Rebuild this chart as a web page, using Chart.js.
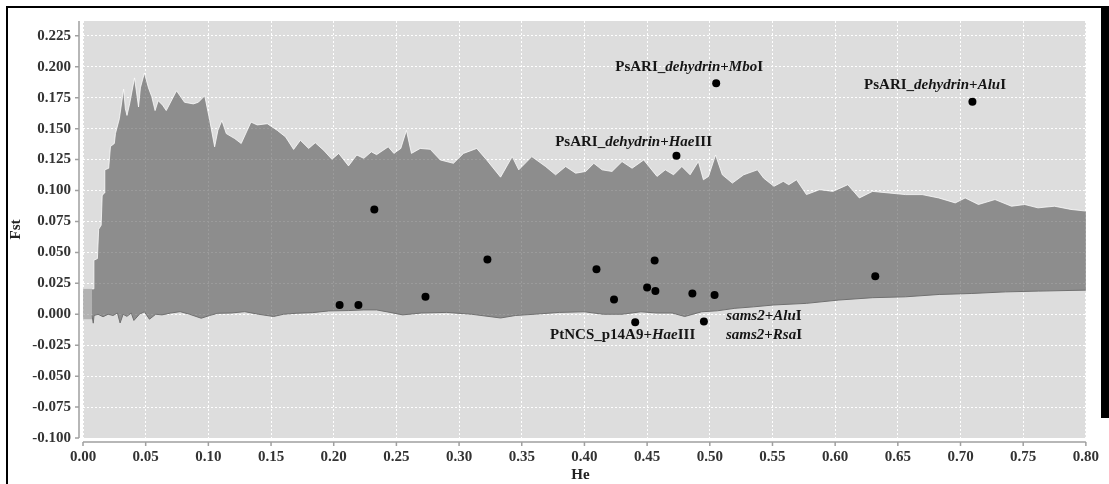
<!DOCTYPE html>
<html>
<head>
<meta charset="utf-8">
<script src="https://cdn.jsdelivr.net/npm/chart.js@4"></script>
<style>
  html, body { margin: 0; padding: 0; background: #fff; }
  #wrap { width: 1109px; height: 484px; }
</style>
</head>
<body>
<div id="wrap"><canvas id="fstChart"></canvas></div>
<script>
// upper edge of the simulated Fst envelope (He, Fst)
const heUpper = [0.0072, 0.0085, 0.0087, 0.0115, 0.0125, 0.0145, 0.0153, 0.0168, 0.0174, 0.0205,
  0.0219, 0.025, 0.0259, 0.029, 0.0324, 0.0338, 0.0351, 0.0372, 0.0411, 0.0443,
  0.0458, 0.049, 0.0522, 0.0548, 0.0575, 0.060, 0.0635, 0.0664, 0.0746, 0.081,
  0.088, 0.092, 0.0971, 0.1011, 0.1050, 0.1076, 0.1108, 0.1143, 0.121, 0.1262,
  0.134, 0.139, 0.147, 0.155, 0.1616, 0.168, 0.1734, 0.180, 0.1853, 0.1919,
  0.1986, 0.204, 0.2118, 0.2184, 0.224, 0.230, 0.2342, 0.2435, 0.248, 0.2535,
  0.258, 0.262, 0.269, 0.277, 0.285, 0.2955, 0.3035, 0.3141, 0.322, 0.3331,
  0.3424, 0.3476, 0.358, 0.369, 0.377, 0.385, 0.393, 0.401, 0.4075, 0.4141,
  0.422, 0.430, 0.438, 0.4473, 0.4579, 0.4645, 0.4711, 0.4777, 0.4843, 0.4909,
  0.4949, 0.499, 0.5046, 0.510, 0.518, 0.527, 0.538, 0.543, 0.5512, 0.5586,
  0.563, 0.5692, 0.5771, 0.5876, 0.5982, 0.6101, 0.6193, 0.6298, 0.6430, 0.6562,
  0.6694, 0.6826, 0.6958, 0.7037, 0.7143, 0.7275, 0.7407, 0.7512, 0.7618, 0.775,
  0.7881, 0.80];
const fstUpper = [0.0205, 0.0205, 0.0437, 0.045, 0.0687, 0.072, 0.0957, 0.098, 0.1167, 0.118,
  0.1356, 0.138, 0.146, 0.158, 0.182, 0.166, 0.1607, 0.170, 0.191, 0.1675,
  0.183, 0.195, 0.183, 0.176, 0.1646, 0.1726, 0.169, 0.1646, 0.1806, 0.1713,
  0.170, 0.1713, 0.1766, 0.1566, 0.1353, 0.1486, 0.1566, 0.1460, 0.142, 0.138,
  0.1553, 0.153, 0.154, 0.1486, 0.1433, 0.1332, 0.1406, 0.1340, 0.1386, 0.1326,
  0.1252, 0.1300, 0.1199, 0.1287, 0.1260, 0.1313, 0.1290, 0.1353, 0.1300, 0.134,
  0.1486, 0.1300, 0.134, 0.1333, 0.1247, 0.122, 0.1300, 0.134, 0.1247, 0.1108,
  0.1274, 0.1167, 0.1274, 0.1194, 0.1127, 0.1194, 0.1140, 0.1154, 0.122, 0.1167,
  0.1154, 0.1234, 0.118, 0.1247, 0.1114, 0.1167, 0.1127, 0.1194, 0.1127, 0.1234,
  0.1087, 0.1114, 0.1287, 0.1127, 0.106, 0.1127, 0.1167, 0.110, 0.1034, 0.1074,
  0.1047, 0.1087, 0.0967, 0.1007, 0.0993, 0.1047, 0.0940, 0.0993, 0.098, 0.0967,
  0.0967, 0.094, 0.0900, 0.094, 0.0887, 0.0927, 0.0873, 0.0887, 0.086, 0.0873,
  0.0847, 0.0834];

// lower edge of the envelope
const heLower = [0.0072, 0.0082, 0.0088, 0.012, 0.016, 0.020, 0.024, 0.0275, 0.0296, 0.032,
  0.035, 0.0385, 0.0406, 0.045, 0.049, 0.053, 0.058, 0.063, 0.070, 0.0775,
  0.085, 0.0943, 0.101, 0.1076, 0.118, 0.129, 0.140, 0.152, 0.160, 0.170,
  0.183, 0.196, 0.212, 0.224, 0.2342, 0.245, 0.255, 0.270, 0.290, 0.310,
  0.3331, 0.345, 0.360, 0.380, 0.400, 0.415, 0.430, 0.445, 0.458, 0.470,
  0.480, 0.4935, 0.506, 0.520, 0.535, 0.551, 0.577, 0.603, 0.630, 0.656,
  0.683, 0.709, 0.736, 0.762, 0.80];
const fstLower = [-0.001, -0.0072, -0.001, 0.000, -0.002, 0.000, -0.001, 0.001, -0.007, 0.000,
  -0.0017, 0.001, -0.005, 0.000, 0.002, -0.004, 0.000, -0.0005, 0.001, 0.0021,
  0.000, -0.0032, -0.001, 0.0008, 0.001, 0.0021, 0.000, -0.0018, 0.000, 0.0008,
  0.0013, 0.0027, 0.0030, 0.0035, 0.0035, 0.0015, -0.0005, 0.0010, 0.0015, 0.000,
  -0.003, -0.001, 0.000, 0.0015, 0.002, 0.000, 0.000, 0.002, 0.001, 0.001,
  -0.0018, 0.002, 0.0028, 0.0048, 0.006, 0.0075, 0.0088, 0.0115, 0.0134, 0.0141,
  0.016, 0.0168, 0.0181, 0.0187, 0.0195];

// lighter box at very low He
const heLight = [0, 0.0072];
const fstLightTop = [0.0205, 0.0205];
const fstLightBottom = [-0.004, -0.004];

// observed loci
const locusHe = [0.2047, 0.2197, 0.2324, 0.2732, 0.3226, 0.4096, 0.4236, 0.4405, 0.450,
  0.456, 0.4566, 0.4734, 0.4861, 0.4953, 0.5038, 0.5051, 0.632, 0.7095];
const locusFst = [0.0075, 0.0075, 0.0847, 0.0141, 0.0443, 0.0363, 0.012, -0.0064, 0.0216,
  0.0435, 0.0187, 0.1282, 0.0168, -0.0058, 0.0155, 0.1867, 0.0307, 0.1718];

// outlier labels: text parts [text, italic]
const labelParts = [
  [['PsARI_', false], ['dehydrin', true], ['+', false], ['Mbo', true], ['I', false]],
  [['PsARI_', false], ['dehydrin', true], ['+', false], ['Hae', true], ['III', false]],
  [['PsARI_', false], ['dehydrin', true], ['+', false], ['Alu', true], ['I', false]],
  [['PtNCS_p14A9+', false], ['Hae', true], ['III', false]],
  [['sams2', true], ['+', false], ['Alu', true], ['I', false]],
  [['sams2', true], ['+', false], ['Rsa', true], ['I', false]]
];
const labelHe = [0.4835, 0.4392, 0.6797, 0.4305, 0.5432, 0.5432];
const labelFst = [0.1995, 0.1393, 0.1854, -0.0165, -0.0018, -0.0165];

const xTicks = [0, 0.05, 0.10, 0.15, 0.20, 0.25, 0.30, 0.35, 0.40, 0.45, 0.50, 0.55, 0.60, 0.65, 0.70, 0.75, 0.80];
const yTicks = [-0.100, -0.075, -0.050, -0.025, 0, 0.025, 0.050, 0.075, 0.100, 0.125, 0.150, 0.175, 0.200, 0.225];

const zip = (xs, ys) => xs.map((x, i) => ({ x: x, y: ys[i] }));
const serif = 'Liberation Serif, Times New Roman, serif';

const decor = {
  id: 'decor',
  beforeDraw(chart) {
    const { ctx, chartArea: a } = chart;
    ctx.save();
    ctx.fillStyle = '#fff';
    ctx.fillRect(0, 0, chart.width, chart.height);
    ctx.fillStyle = '#dddddd';
    ctx.fillRect(a.left, a.top, a.right - a.left, a.bottom - a.top);
    // photo frame
    ctx.fillStyle = '#000';
    ctx.fillRect(6, 6, chart.width - 6, 2);
    ctx.fillRect(6, 6, 2, chart.height - 6);
    ctx.fillRect(1101, 6, 8, 412);
    ctx.restore();
  },
  afterDraw(chart) {
    const { ctx, chartArea: a, scales } = chart;
    ctx.save();
    ctx.strokeStyle = '#a0a0a0';
    ctx.lineWidth = 1.5;
    // y axis line + ticks
    const ax = a.left - 4;
    ctx.beginPath();
    ctx.moveTo(ax, a.top); ctx.lineTo(ax, a.bottom);
    yTicks.forEach(v => {
      const py = scales.y.getPixelForValue(v);
      ctx.moveTo(ax - 4, py); ctx.lineTo(ax, py);
    });
    // x axis line + ticks
    const ay = a.bottom + 4;
    ctx.moveTo(a.left, ay); ctx.lineTo(a.right, ay);
    xTicks.forEach(v => {
      const px = scales.x.getPixelForValue(v);
      ctx.moveTo(px, ay); ctx.lineTo(px, ay + 4);
    });
    ctx.stroke();

    // axis titles
    ctx.fillStyle = '#222';
    ctx.font = 'bold 15px ' + serif;
    ctx.textAlign = 'center';
    ctx.textBaseline = 'middle';
    ctx.fillText('He', (a.left + a.right) / 2 - 4, 475);
    ctx.translate(16, (a.top + a.bottom) / 2);
    ctx.rotate(-Math.PI / 2);
    ctx.fillText('Fst', 0, 0);
    ctx.restore();

    // outlier labels
    ctx.save();
    ctx.fillStyle = '#151515';
    ctx.textBaseline = 'middle';
    ctx.textAlign = 'left';
    labelParts.forEach((parts, i) => {
      const fonts = parts.map(p => (p[1] ? 'italic bold 15px ' : 'bold 15px ') + serif);
      let w = 0;
      parts.forEach((p, j) => { ctx.font = fonts[j]; w += ctx.measureText(p[0]).width; });
      let x = scales.x.getPixelForValue(labelHe[i]) - w / 2;
      const y = scales.y.getPixelForValue(labelFst[i]);
      parts.forEach((p, j) => {
        ctx.font = fonts[j];
        ctx.fillText(p[0], x, y);
        x += ctx.measureText(p[0]).width;
      });
    });
    ctx.restore();
  }
};

const ctx = document.getElementById('fstChart');

new Chart(ctx, {
  type: 'scatter',
  data: {
    datasets: [
      { type: 'line', data: zip(heLight, fstLightBottom), borderWidth: 0, pointRadius: 0, fill: false, order: 2 },
      { type: 'line', data: zip(heLight, fstLightTop), borderWidth: 0, pointRadius: 0,
        fill: '-1', backgroundColor: 'rgba(150,150,150,0.6)', order: 2 },
      { type: 'line', data: zip(heLower, fstLower), borderColor: '#707070', borderWidth: 1,
        pointRadius: 0, fill: false, tension: 0, order: 2 },
      { type: 'line', data: zip(heUpper, fstUpper), borderColor: 'rgba(255,255,255,0.75)', borderWidth: 1,
        pointRadius: 0, fill: '-1', backgroundColor: 'rgba(88,88,88,0.6)', tension: 0, order: 2 },
      { data: zip(locusHe, locusFst), pointRadius: 4, pointBackgroundColor: '#000',
        pointBorderWidth: 0, showLine: false, order: 0 }
    ]
  },
  options: {
    responsive: true,
    maintainAspectRatio: false,
    animation: false,
    layout: { padding: { top: 15, right: 14, left: 0, bottom: 0 } },
    plugins: { legend: { display: false }, tooltip: { enabled: false } },
    scales: {
      x: {
        type: 'linear',
        min: 0,
        max: 0.8,
        afterBuildTicks: s => { s.ticks = xTicks.map(v => ({ value: v })); },
        afterFit: s => { s.height = 46; },
        grid: { color: '#ffffff', lineWidth: 1, drawTicks: false },
        border: { display: false, dash: [2, 2] },
        ticks: {
          padding: 10,
          color: '#333',
          font: { family: serif, size: 15, weight: 'bold' },
          maxRotation: 0,
          callback: v => v.toFixed(2)
        }
      },
      y: {
        type: 'linear',
        min: -0.1,
        max: 0.237,
        afterBuildTicks: s => { s.ticks = yTicks.map(v => ({ value: v })); },
        afterFit: s => { s.width = 83; },
        grid: { color: '#ffffff', lineWidth: 1, drawTicks: false },
        border: { display: false, dash: [2, 2] },
        ticks: {
          padding: 12,
          color: '#333',
          font: { family: serif, size: 15, weight: 'bold' },
          callback: v => v.toFixed(3)
        }
      }
    }
  },
  plugins: [decor]
});
</script>
</body>
</html>
